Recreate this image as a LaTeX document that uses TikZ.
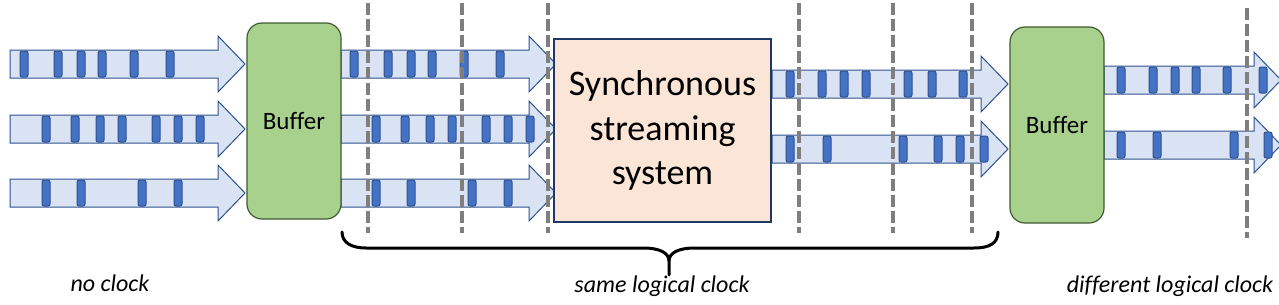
\documentclass[tikz,border=0pt]{standalone}
\usepackage{fontspec}
\setmainfont{Carlito}[Ligatures=CommonOff]
\usepackage{xcolor}
\usetikzlibrary{calc}

\definecolor{streamfill}{RGB}{218,227,243}
\definecolor{streamline}{RGB}{47,82,143}
\definecolor{tokenfill}{RGB}{68,114,196}
\definecolor{bufferfill}{RGB}{169,209,142}
\definecolor{bufferline}{RGB}{62,92,48}
\definecolor{syncfill}{RGB}{251,229,214}
\definecolor{syncline}{RGB}{32,56,100}
\definecolor{clockgray}{RGB}{127,127,127}

\begin{document}
\begin{tikzpicture}[
		x=0.5pt, y=-0.5pt,
		stream/.style={fill=streamfill,draw=streamline,line width=0.5pt,line join=miter},
		token/.style={fill=tokenfill,draw=streamline,line width=0.5pt,rounded corners=1pt},
		buffer/.style={rectangle,rounded corners=7.5pt,fill=bufferfill,draw=bufferline,line width=0.6pt,
			minimum width=47pt,minimum height=98pt,inner sep=0pt,font=\fontsize{12.5}{15}\selectfont},
		sync/.style={rectangle,fill=syncfill,draw=syncline,line width=0.6pt,minimum width=108.5pt,
			minimum height=91.5pt,inner sep=0pt,align=center,font=\fontsize{18}{22.2}\selectfont},
		clock/.style={draw=clockgray,line width=2pt,dash pattern=on 6pt off 2pt},
		brace/.style={line width=1.5pt,line cap=round},
		lbl/.style={anchor=base,font=\fontsize{12}{14}\selectfont\itshape}
	]
		\useasboundingbox (0,0) rectangle (1279,305);

		% 数据流箭头
		\foreach \xa/\xb/\yc in {10/218/64, 10/218/129, 10/218/193,
			341/529/64, 341/529/129, 341/529/193,
			772/981/84, 772/981/149, 1104/1254/80, 1104/1254/145}
			\draw[stream] (\xa,\yc-14) -- (\xb,\yc-14) -- (\xb,\yc-28) -- (\xb+27,\yc)
				-- (\xb,\yc+28) -- (\xb,\yc+14) -- (\xa,\yc+14) -- cycle;

		% 事件（缓冲前后相同）
		\foreach \dx in {0,330}
			\foreach \yc/\xlist in {64/{24,58,81,102,134,170}, 129/{46,75,100,122,156,178,200}, 193/{46,81,142,178}}
				\foreach \x in \xlist
					\draw[token] (\x+\dx-4,\yc-13) rectangle (\x+\dx+4,\yc+13);

		% 系统输出的事件
		\foreach \yc/\xlist in {84/{790,822,844,866,908,932,963}, 149/{790,827,903,938,960,984},
			80/{1121,1153,1175,1196,1227,1263}, 145/{1121,1157,1234,1268}}
			\foreach \x in \xlist
				\draw[token] (\x-4,\yc-13) rectangle (\x+4,\yc+13);

		% 缓冲区与同步系统
		\node[buffer] (buf1) at (294,121) {Buffer};
		\node[sync] (sys) at (662.5,130.5) {Synchronous\\streaming\\system};
		\node[buffer] (buf2) at (1057,125) {Buffer};

		% 逻辑时钟
		\foreach \x in {368,462,548,799,893,972}
			\draw[clock] (\x,3) -- (\x,233);
		\draw[clock] (1247,8) -- (1247,238);

		% 大括号
		\coordinate (bl) at (342,232);
		\coordinate (br) at (998,232);
		\coordinate (bm) at (669,261);
		\draw[brace] (bl) .. controls (342,243) and (352,248) .. (366,248) -- (643,248)
			.. controls (660,248) and (669,253) .. (bm) -- ($(bm)+(0,14)$);
		\draw[brace] (bm) .. controls (669,253) and (678,248) .. (695,248) -- (974,248)
			.. controls (990,248) and (998,243) .. (br);

		% 标注
		\node[lbl] (noclk) at (110,291) {no clock};
		\node[lbl] (sameclk) at (662,292) {same logical clock};
		\node[lbl] (diffclk) at (1170,292) {different logical clock};
	\end{tikzpicture}
\end{document}
